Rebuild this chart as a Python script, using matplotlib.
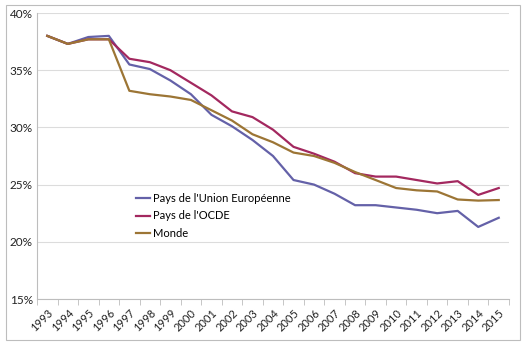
import numpy as np
import matplotlib.pyplot as plt
from matplotlib.patches import Rectangle

plt.rcParams['font.family'] = ['Lato', 'DejaVu Sans']

years = [str(y) for y in range(1993, 2016)]

# taux en %
ue = [38.0, 37.3, 37.9, 38.0, 35.5, 35.1, 34.1, 32.9, 31.1, 30.1, 28.9, 27.5,
      25.4, 25.0, 24.2, 23.2, 23.2, 23.0, 22.8, 22.5, 22.7, 21.3, 22.1]
ocde = [38.0, 37.3, 37.7, 37.7, 36.0, 35.7, 35.0, 33.9, 32.8, 31.4, 30.9, 29.8,
        28.3, 27.7, 27.0, 26.0, 25.7, 25.7, 25.4, 25.1, 25.3, 24.1, 24.7]
monde = [38.0, 37.3, 37.7, 37.7, 33.2, 32.9, 32.7, 32.4, 31.5, 30.6, 29.4, 28.7,
         27.8, 27.5, 26.9, 26.1, 25.4, 24.7, 24.5, 24.4, 23.7, 23.6, 23.65]

series_names = ["Pays de l'Union Européenne", "Pays de l'OCDE", "Monde"]
colors = ['#6461A8', '#A3285F', '#9C7535']

fig = plt.figure(figsize=(5.24, 3.52), dpi=100)
fig.patches.append(Rectangle((6/524, 1-340/352), 514/524, 335/352, transform=fig.transFigure,
                             fill=False, edgecolor='#BDBDBD', linewidth=0.8))
ax = fig.add_axes([37/524, 1-299/352, 472/524, 286/352])

x = np.arange(len(years))
for vals, name, c in zip([ue, ocde, monde], series_names, colors):
    ax.plot(x, vals, color=c, linewidth=1.6, label=name)

ax.set_xlim(-0.5, len(years)-0.5)
ax.set_ylim(15, 40)
ax.set_yticks([15, 20, 25, 30, 35, 40])
ax.set_yticklabels(['%d%%' % v for v in [15, 20, 25, 30, 35, 40]])
ax.yaxis.grid(True, color='#DCDCDC', linewidth=0.8)
ax.set_axisbelow(True)

ax.set_xticks(x)
ax.set_xticklabels(years, rotation=45, ha='right', va='top', rotation_mode='anchor')
ax.set_xticks(np.arange(len(years)+1)-0.5, minor=True)
ax.tick_params(axis='x', which='major', length=0, pad=6, labelsize=8, colors='#222222')
ax.tick_params(axis='x', which='minor', length=4, color='#BDBDBD', direction='out')
ax.tick_params(axis='y', length=0, labelsize=8.5, colors='#222222', pad=3)

for s in ['top', 'right']:
    ax.spines[s].set_visible(False)
ax.spines['left'].set_color('#BDBDBD')
ax.spines['bottom'].set_color('#BDBDBD')

leg = ax.legend(loc='upper left', bbox_to_anchor=(0.2, 0.385), frameon=False,
                fontsize=8, handlelength=1.3, handletextpad=0.2, labelspacing=0.55,
                borderaxespad=0)

fig.savefig('out.png', dpi=100)
